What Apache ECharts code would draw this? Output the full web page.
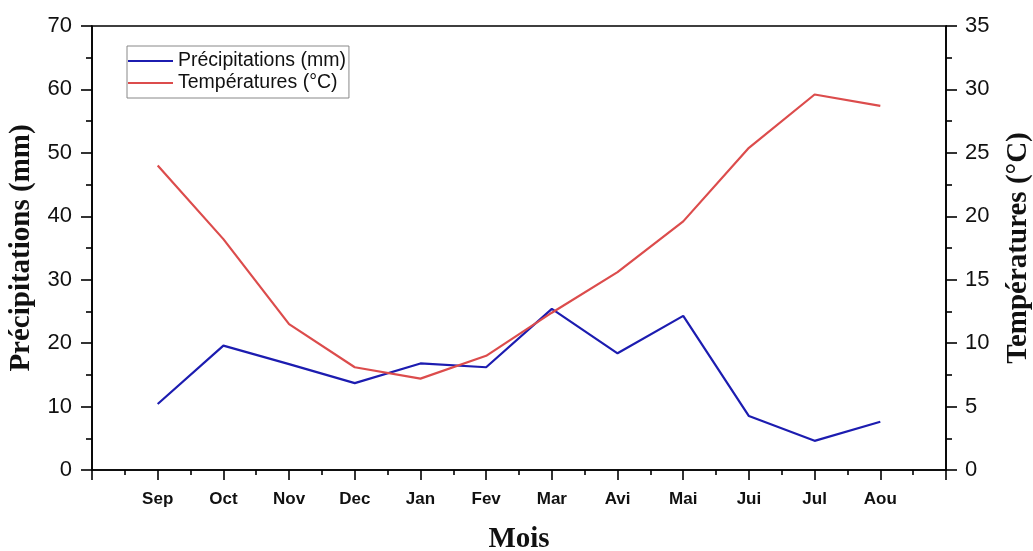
<!DOCTYPE html>
<html>
<head>
<meta charset="utf-8">
<script src="https://cdn.jsdelivr.net/npm/echarts@6/dist/echarts.min.js"></script>
<style>
html,body{margin:0;padding:0;background:#fff;overflow:hidden;}
#chart{width:1033px;height:551px;}
</style>
</head>
<body>
<div id="chart"></div>
<script>
var months = ['Sep','Oct','Nov','Dec','Jan','Fev','Mar','Avi','Mai','Jui','Jul','Aou'];
var precipitations = [10.4, 19.6, 16.7, 13.7, 16.8, 16.2, 25.4, 18.4, 24.3, 8.5, 4.6, 7.6];
var temperatures = [24.0, 18.2, 11.5, 8.1, 7.2, 9.0, 12.4, 15.6, 19.6, 25.4, 29.6, 28.7];
var leftTicks = [0, 10, 20, 30, 40, 50, 60, 70];
var rightTicks = [0, 5, 10, 15, 20, 25, 30, 35];

var precipData = months.map(function (m, i) { return [i + 1, precipitations[i]]; });
var tempData = months.map(function (m, i) { return [i + 1, temperatures[i]]; });

var labelFont = 'Liberation Sans, Arial, sans-serif';
var nameFont = 'Liberation Serif, Times New Roman, serif';
var axisLine = { show: true, lineStyle: { color: '#000', width: 1.6 } };

var chart = echarts.init(document.getElementById('chart'), null, { width: 1033, height: 551 });
chart.setOption({
  backgroundColor: '#fff',
  animation: false,
  grid: {
    left: 92, right: 87, top: 26, bottom: 81,
    containLabel: false, outerBoundsMode: 'none',
    show: true, borderColor: '#000', borderWidth: 1.6
  },
  legend: {
    orient: 'vertical',
    left: 127, top: 46,
    padding: [4, 3, 4, 1],
    itemGap: 0,
    icon: 'rect',
    itemWidth: 45, itemHeight: 2,
    borderColor: '#888', borderWidth: 1,
    backgroundColor: '#fff',
    textStyle: { fontFamily: labelFont, fontSize: 19.5, color: '#111', lineHeight: 22 },
    data: ['Précipitations (mm)', 'Températures (°C)']
  },
  xAxis: {
    type: 'value', min: 0, max: 13, interval: 1,
    name: 'Mois', nameLocation: 'middle', nameGap: 55,
    nameTextStyle: { fontFamily: nameFont, fontWeight: 'bold', fontSize: 29, color: '#111' },
    axisLine: axisLine,
    axisTick: { show: true, inside: false, length: 10, lineStyle: { color: '#000', width: 1.6 } },
    minorTick: { show: true, splitNumber: 2, length: 5, lineStyle: { color: '#000', width: 1.6 } },
    splitLine: { show: false },
    axisLabel: {
      margin: 21, fontFamily: labelFont, fontWeight: 'bold', fontSize: 17, color: '#111',
      formatter: function (v) { return (v >= 1 && v <= months.length) ? months[v - 1] : ''; }
    }
  },
  yAxis: [{
    type: 'value', position: 'left', min: leftTicks[0], max: leftTicks[leftTicks.length - 1], interval: 10,
    name: 'Précipitations (mm)', nameLocation: 'middle', nameGap: 56, nameRotate: 90,
    nameTextStyle: { fontFamily: nameFont, fontWeight: 'bold', fontSize: 29, color: '#111' },
    axisLine: axisLine,
    axisTick: { show: true, inside: false, length: 11, lineStyle: { color: '#000', width: 1.6 } },
    minorTick: { show: true, splitNumber: 2, length: 6, lineStyle: { color: '#000', width: 1.6 } },
    splitLine: { show: false },
    axisLabel: { margin: 20, fontFamily: labelFont, fontSize: 22, color: '#111' }
  }, {
    type: 'value', position: 'right', min: rightTicks[0], max: rightTicks[rightTicks.length - 1], interval: 5,
    name: 'Températures (°C)', nameLocation: 'middle', nameGap: 58, nameRotate: 90,
    nameTextStyle: { fontFamily: nameFont, fontWeight: 'bold', fontSize: 29, color: '#111' },
    axisLine: axisLine,
    axisTick: { show: true, inside: false, length: 11, lineStyle: { color: '#000', width: 1.6 } },
    minorTick: { show: true, splitNumber: 2, length: 6, lineStyle: { color: '#000', width: 1.6 } },
    splitLine: { show: false },
    axisLabel: { margin: 19, fontFamily: labelFont, fontSize: 22, color: '#111' }
  }],
  series: [{
    name: 'Précipitations (mm)', type: 'line', yAxisIndex: 0,
    data: precipData, symbol: 'none', showSymbol: false,
    lineStyle: { color: '#1c1cb0', width: 2.2 }, itemStyle: { color: '#1c1cb0' }
  }, {
    name: 'Températures (°C)', type: 'line', yAxisIndex: 1,
    data: tempData, symbol: 'none', showSymbol: false,
    lineStyle: { color: '#dc4c4c', width: 2.2 }, itemStyle: { color: '#dc4c4c' }
  }]
});
</script>
</body>
</html>
